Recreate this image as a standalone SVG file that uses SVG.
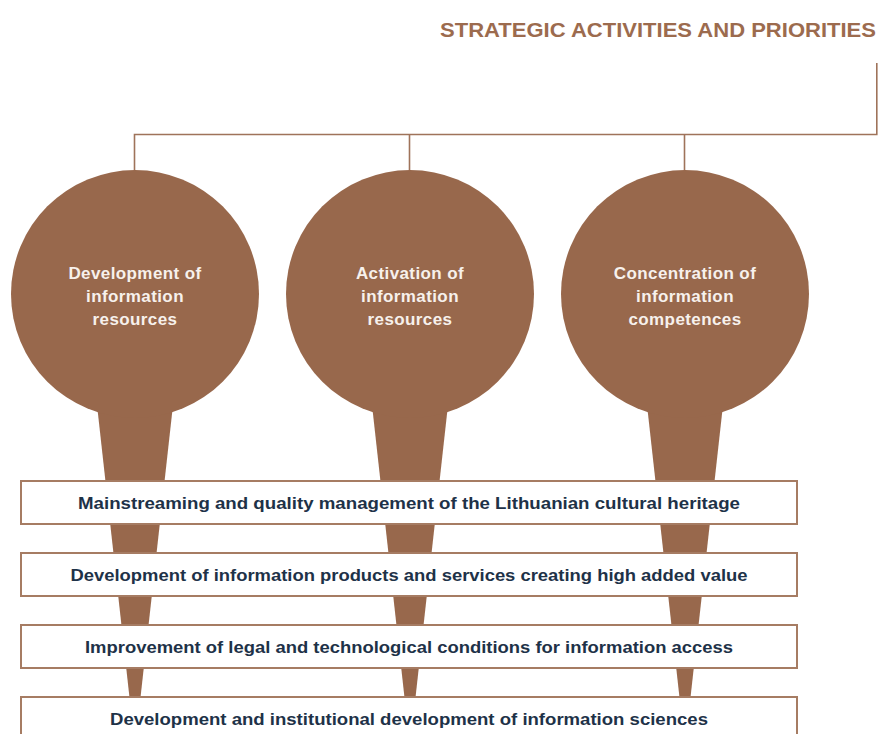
<svg xmlns="http://www.w3.org/2000/svg" width="878" height="734" viewBox="0 0 878 734">
<style>
.brown{fill:#98684c}
.line{fill:none;stroke:#9f735a;stroke-width:1.6}
.box{fill:#ffffff;stroke:#a67c63;stroke-width:2}
.title{font-family:"Liberation Sans",Arial,sans-serif;font-weight:bold;font-size:19.5px;fill:#9c6b4e}
.ctext{font-family:"Liberation Sans",Arial,sans-serif;font-weight:bold;font-size:17px;fill:#f7f1ec;text-anchor:middle;letter-spacing:0.4px}
.btext{font-family:"Liberation Sans",Arial,sans-serif;font-weight:bold;font-size:17px;fill:#1e3248;text-anchor:middle}
</style>
<rect width="878" height="734" fill="#ffffff"/>
<text class="title" x="440" y="37" textLength="436" lengthAdjust="spacingAndGlyphs">STRATEGIC ACTIVITIES AND PRIORITIES</text>
<g id="connectors">
<polyline class="line" points="876.8,63 876.8,134.5 134.5,134.5 134.5,172"/>
<line class="line" x1="409.5" y1="134.5" x2="409.5" y2="172"/>
<line class="line" x1="684.5" y1="134.5" x2="684.5" y2="172"/>
</g>
<g id="node-development">
<polygon class="brown" points="97,405 173,405 138,720 132,720"/>
<circle class="brown" cx="135" cy="294" r="124"/>
<text class="ctext" x="135" y="279">Development of</text>
<text class="ctext" x="135" y="302">information</text>
<text class="ctext" x="135" y="324.5">resources</text>
</g>
<g id="node-activation">
<polygon class="brown" points="372,405 448,405 413,720 407,720"/>
<circle class="brown" cx="410" cy="294" r="124"/>
<text class="ctext" x="410" y="279">Activation of</text>
<text class="ctext" x="410" y="302">information</text>
<text class="ctext" x="410" y="324.5">resources</text>
</g>
<g id="node-concentration">
<polygon class="brown" points="647,405 723,405 688,720 682,720"/>
<circle class="brown" cx="685" cy="294" r="124"/>
<text class="ctext" x="685" y="279">Concentration of</text>
<text class="ctext" x="685" y="302">information</text>
<text class="ctext" x="685" y="324.5">competences</text>
</g>
<g id="box-mainstreaming">
<rect class="box" x="21" y="481" width="776" height="43"/>
<text class="btext" x="409" y="508.5" textLength="662" lengthAdjust="spacingAndGlyphs">Mainstreaming and quality management of the Lithuanian cultural heritage</text>
</g>
<g id="box-products">
<rect class="box" x="21" y="553" width="776" height="43"/>
<text class="btext" x="409" y="580.5" textLength="677" lengthAdjust="spacingAndGlyphs">Development of information products and services creating high added value</text>
</g>
<g id="box-conditions">
<rect class="box" x="21" y="625" width="776" height="43"/>
<text class="btext" x="409" y="652.5" textLength="648" lengthAdjust="spacingAndGlyphs">Improvement of legal and technological conditions for information access</text>
</g>
<g id="box-sciences">
<rect class="box" x="21" y="697" width="776" height="50"/>
<text class="btext" x="409" y="724.5" textLength="598" lengthAdjust="spacingAndGlyphs">Development and institutional development of information sciences</text>
</g>
</svg>
